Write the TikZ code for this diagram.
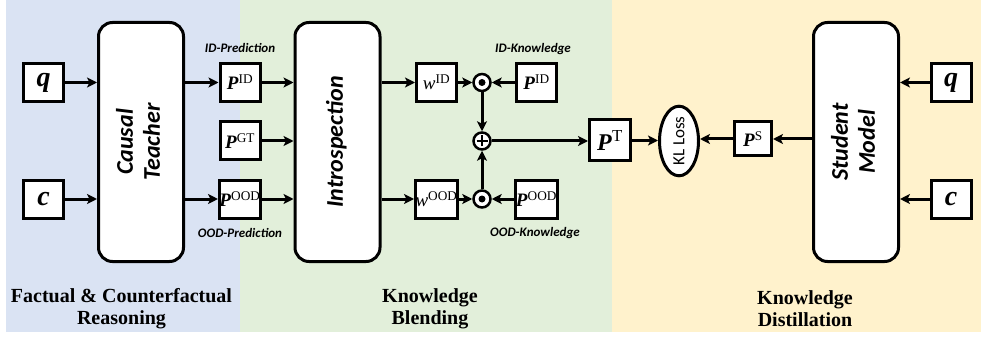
\documentclass[tikz,border=0pt]{standalone}
\usepackage{fontspec}
\setmainfont{Liberation Serif}
\newfontfamily\calfont{Carlito}
\usetikzlibrary{arrows.meta, shapes.geometric, positioning}
\definecolor{reasoncolor}{RGB}{218, 227, 243}
\definecolor{blendcolor}{RGB}{226, 239, 218}
\definecolor{distillcolor}{RGB}{255, 242, 204}
\newcommand{\pvec}[1]{\textbf{\textit{P}}\textsuperscript{#1}}
\newcommand{\wvec}[1]{\textit{w}\textsuperscript{#1}}
\newcommand{\vtext}[1]{\rotatebox{90}{\begin{tabular}{@{}c@{}}#1\end{tabular}}}

\begin{document}
\begin{tikzpicture}[
    x=1pt, y=-1pt,
    block/.style={draw, line width=3pt, fill=white, rounded corners=14pt, minimum width=85pt, minimum height=239pt, inner sep=0pt, font=\calfont\bfseries\itshape\fontsize{24}{27}\selectfont},
    var/.style={draw, line width=3pt, fill=white, minimum width=40pt, minimum height=38pt, inner sep=0pt, font=\fontsize{19}{21}\selectfont},
    op/.style={circle, draw, line width=2.5pt, fill=white, minimum size=17pt, inner sep=0pt},
    tag/.style={font=\calfont\bfseries\itshape\fontsize{13}{15}\selectfont},
    stage/.style={font=\bfseries\fontsize{20}{22}\selectfont, align=center},
    flow/.style={-{Stealth[length=10pt, width=10pt, inset=2.5pt]}, line width=3pt}
]
    \useasboundingbox (0,0) rectangle (981,339);

    % Stage backgrounds
    \fill[reasoncolor] (6,0) rectangle (240,332);
    \fill[blendcolor] (240,0) rectangle (612,332);
    \fill[distillcolor] (612,0) rectangle (981,332);

    % Causal teacher (left)
    \node[var, font=\fontsize{28}{30}\selectfont] (qin) at (43.5,82.5) {\textbf{\textit{q}}};
    \node[var, font=\fontsize{28}{30}\selectfont] (cin) at (43.5,199) {\textbf{\textit{c}}};
    \node[block] (teacher) at (141,142) {\vtext{Causal\\Teacher}};

    % Teacher predictions
    \node[var] (pid) at (240,82.5) {\pvec{ID}};
    \node[var] (pgt) at (240,141) {\pvec{GT}};
    \node[var] (pood) at (240,199) {\pvec{OOD}};
    \node[tag] (idpred) at (240,48) {ID-Prediction};
    \node[tag] (oodpred) at (240,233) {OOD-Prediction};

    % Knowledge blending (middle)
    \node[block] (intro) at (337.5,142) {\vtext{Introspection}};
    \node[var] (wid) at (436.5,82.5) {\wvec{ID}};
    \node[var] (wood) at (436.5,199) {\wvec{OOD}};
    \node[op] (dotid) at (482,82.5) {};
    \node[op] (dotood) at (482,199) {};
    \node[op] (plus) at (482,141) {};
    \fill (dotid) circle (3.5pt);
    \fill (dotood) circle (3.5pt);
    \draw[line width=2.5pt] ([xshift=-5.5pt]plus.center) -- ([xshift=5.5pt]plus.center);
    \draw[line width=2.5pt] ([yshift=-5.5pt]plus.center) -- ([yshift=5.5pt]plus.center);
    \node[var] (kid) at (536.5,82.5) {\pvec{ID}};
    \node[var] (kood) at (536.5,199) {\pvec{OOD}};
    \node[tag] (idknow) at (533,49) {ID-Knowledge};
    \node[tag] (oodknow) at (535,233) {OOD-Knowledge};

    % Knowledge distillation (right)
    \node[var, minimum width=41pt, minimum height=41pt, font=\fontsize{24}{26}\selectfont] (pt) at (610,140.5) {\pvec{T}};
    \node[ellipse, draw, line width=3pt, fill=white, minimum width=39pt, minimum height=63pt, inner sep=0pt, font=\calfont\fontsize{17}{19}\selectfont] (kl) at (679,141) {\rotatebox{90}{KL Loss}};
    \node[var, minimum width=37pt, minimum height=34pt] (ps) at (753,139) {\pvec{S}};
    \node[block] (student) at (856,142) {\vtext{Student\\Model}};
    \node[var, font=\fontsize{28}{30}\selectfont] (qout) at (951,82.5) {\textbf{\textit{q}}};
    \node[var, font=\fontsize{28}{30}\selectfont] (cout) at (951,199) {\textbf{\textit{c}}};

    % Connections - teacher
    \draw[flow] (qin.east) -- (qin.east -| teacher.west);
    \draw[flow] (cin.east) -- (cin.east -| teacher.west);
    \draw[flow] (pid.west -| teacher.east) -- (pid.west);
    \draw[flow] (pood.west -| teacher.east) -- (pood.west);

    % Connections - blending
    \draw[flow] (pid.east) -- (pid.east -| intro.west);
    \draw[flow] (pgt.east) -- (pgt.east -| intro.west);
    \draw[flow] (pood.east) -- (pood.east -| intro.west);
    \draw[flow] (wid.west -| intro.east) -- (wid.west);
    \draw[flow] (wood.west -| intro.east) -- (wood.west);
    \draw[flow] (wid) -- (dotid);
    \draw[flow] (wood) -- (dotood);
    \draw[flow] (kid) -- (dotid);
    \draw[flow] (kood) -- (dotood);
    \draw[flow] (dotid) -- (plus);
    \draw[flow] (dotood) -- (plus);
    \draw[flow] (plus.east) -- (plus.east -| pt.west);

    % Connections - distillation
    \draw[flow] (pt.east) -- (pt.east -| kl.west);
    \draw[flow] (ps.west) -- (ps.west -| kl.east);
    \draw[flow] (ps.east -| student.west) -- (ps.east);
    \draw[flow] (qout.west) -- (qout.west -| student.east);
    \draw[flow] (cout.west) -- (cout.west -| student.east);

    % Stage labels
    \node[stage] (reason) at (121.5,309) {Factual \& Counterfactual\\Reasoning};
    \node[stage] (blend) at (430,309) {Knowledge\\Blending};
    \node[stage] (distill) at (805,309) {Knowledge\\Distillation};

\end{tikzpicture}
\end{document}
